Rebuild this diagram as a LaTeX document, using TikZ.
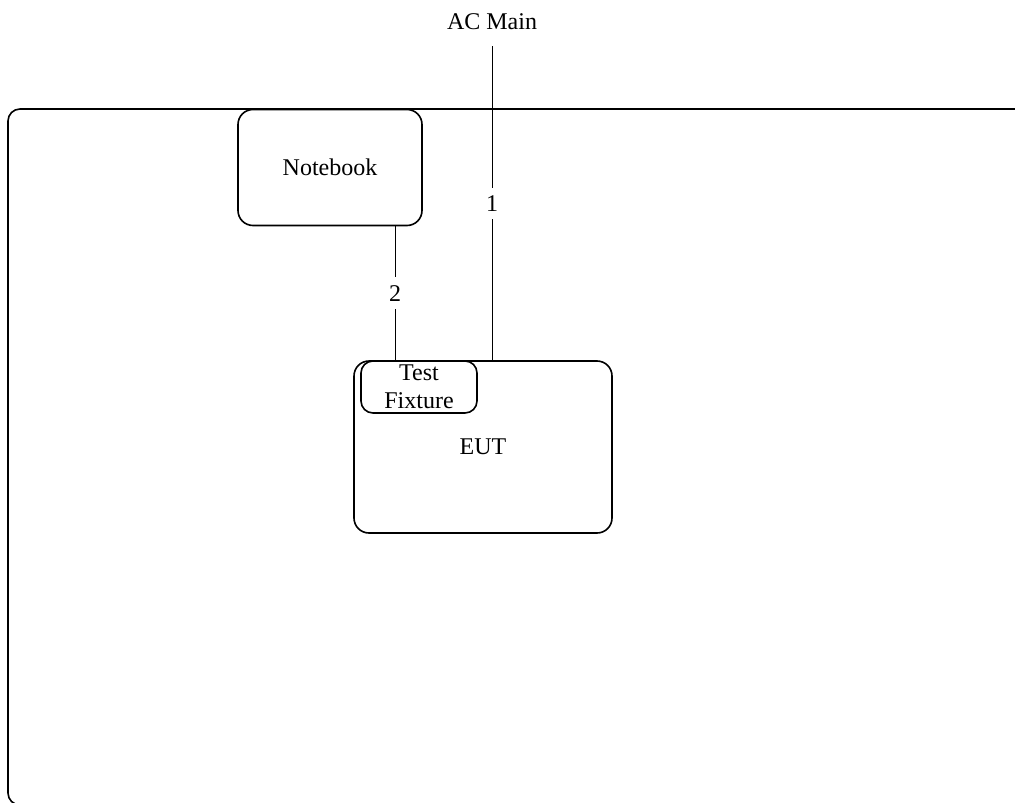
\documentclass[tikz,border=0pt]{standalone}
\usepackage{fontspec}
\setmainfont{Liberation Serif}
\begin{document}
\begin{tikzpicture}[x=1pt,y=-1pt,
      every node/.style={font=\fontsize{24}{28}\selectfont},
      frame/.style={draw,line width=1.6pt,rounded corners=12pt},
      unit/.style={draw,line width=1.6pt,rounded corners=15pt,outer sep=0pt,
        inner sep=0pt,align=center},
      cable/.style={line width=0.9pt},
      num/.style={fill=white,inner xsep=3pt,inner ysep=8pt}]
    \clip (0,0) rectangle (1015,803);
    % --- cornice del banco di prova ---
    \draw[frame] (8,109) rectangle (1035,805);
    % --- apparecchi ---
    \node[unit,minimum width=184pt,minimum height=116pt] (notebook) at (330,167.5) {Notebook};
    \node[unit,minimum width=258pt,minimum height=172pt] (eut) at (483,447) {EUT};
    \node[unit,rounded corners=12pt,minimum width=116pt,minimum height=52pt] (fixture) at (419,387) {Test\\Fixture};
    \node (acmain) at (492,22) {AC Main};
    \coordinate (acin) at (492,46);
    % --- cavi ---
    \draw[cable] (acin) -- node[num] {1} (acin |- eut.north);
    \draw[cable] ([xshift=65pt]notebook.south) -- node[num] {2} ([xshift=65pt]notebook.south |- fixture.north);
\end{tikzpicture}
\end{document}
